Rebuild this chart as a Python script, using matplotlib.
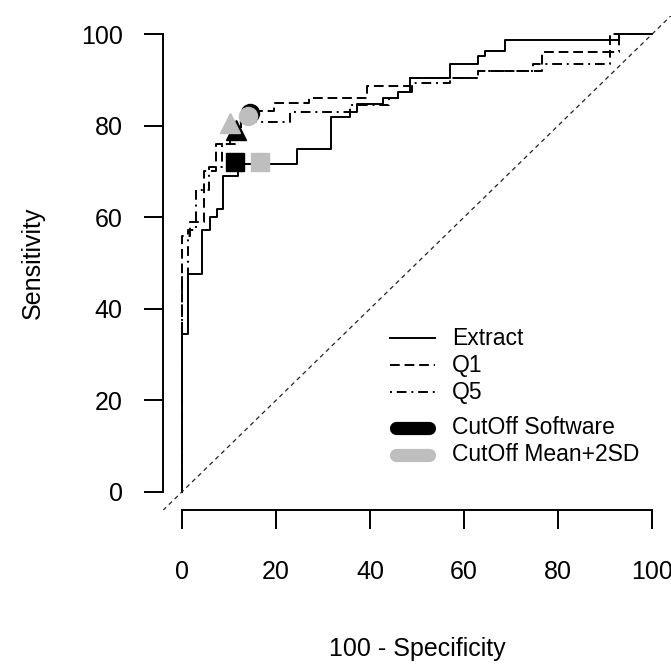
import matplotlib
matplotlib.use("Agg")
import matplotlib.pyplot as plt

plt.rcParams["font.family"] = ["Liberation Sans", "DejaVu Sans"]

# ROC curves: corner points (100 - specificity, sensitivity), drawn as steps-post
extract_x = [0, 0, 1.3, 4.3, 6.0, 7.4, 8.7, 12.0, 24.5, 31.7, 35.7, 37.2, 42.8, 46.0,
             48.6, 57.0, 63.0, 64.5, 68.7, 93.0, 100]
extract_y = [0, 34.4, 47.5, 57.3, 60.0, 61.7, 69.1, 71.7, 75.0, 81.8, 83.0, 84.7, 86.0, 87.4,
             90.5, 93.4, 95.3, 96.3, 98.7, 100, 100]

q1_x = [0, 0, 1.7, 4.7, 7.2, 10.2, 12.5, 14.5, 19.5, 27.0, 39.3, 48.5, 63.0, 76.5, 91.0, 100]
q1_y = [0, 56.0, 59.0, 70.0, 76.0, 79.0, 82.5, 83.1, 84.9, 86.1, 88.7, 90.5, 91.9, 96.0, 100, 100]

q5_x = [0, 0, 1.3, 3.1, 5.7, 8.5, 11.3, 23.0, 35.7, 44.0, 46.0, 49.0, 57.0, 63.0, 74.7,
        91.0, 93.0, 100]
q5_y = [0, 47.0, 57.3, 66.0, 71.0, 76.0, 80.7, 83.0, 84.6, 86.0, 87.4, 89.2, 90.5, 91.9, 93.4,
        96.0, 100, 100]

# cut-off points: software (black) and mean+2SD (grey)
cut_names = ["Extract", "Q1", "Q5"]
cut_markers = ["s", "o", "^"]
cut_soft_x = [11.3, 14.5, 11.6]
cut_soft_y = [72.0, 82.7, 79.0]
cut_sd_x = [16.6, 14.1, 10.3]
cut_sd_y = [72.0, 82.0, 80.6]

ticks = [0, 20, 40, 60, 80, 100]

GREY = "#bebebe"
LW = 1.4

fig = plt.figure(figsize=(6.71, 6.64), dpi=100)
ax = fig.add_axes([163 / 671, 1 - 510.3 / 664, 508 / 671, 494.6 / 664])

ax.plot(extract_x, extract_y, color="black", lw=LW, drawstyle="steps-post")
ax.plot(q1_x, q1_y, color="black", lw=LW, drawstyle="steps-post", dashes=(5, 2.5))
ax.plot(q5_x, q5_y, color="black", lw=LW, drawstyle="steps-post",
        dashes=(1, 2.5, 5, 2.5))
ax.axline((0, 0), (100, 100), color="#222222", lw=0.9, dashes=(3.5, 3))

sizes = {"s": 13, "o": 13, "^": 15}
for m, x, y in zip(cut_markers, cut_soft_x, cut_soft_y):
    ax.plot(x, y, marker=m, ms=sizes[m], color="black", mec="black", ls="none")
for m, x, y in zip(cut_markers, cut_sd_x, cut_sd_y):
    ax.plot(x, y, marker=m, ms=sizes[m], color=GREY, mec=GREY, ls="none")

# legend, laid out by hand like the R version
leg_rows = [33.6, 27.7, 21.8, 14.0, 8.1]
leg_labels = ["Extract", "Q1", "Q5", "CutOff Software", "CutOff Mean+2SD"]
x0, x1, xt = 44.3, 53.8, 57.4
ax.plot([x0, x1], [leg_rows[0]] * 2, color="black", lw=LW)
ax.plot([x0, x1], [leg_rows[1]] * 2, color="black", lw=LW, dashes=(5, 2.5))
ax.plot([x0, x1], [leg_rows[2]] * 2, color="black", lw=LW, dashes=(1, 2.5, 5, 2.5))
ax.plot([x0 + 1.2, x1 - 1.2], [leg_rows[3]] * 2, color="black", lw=9.5,
        solid_capstyle="round")
ax.plot([x0 + 1.2, x1 - 1.2], [leg_rows[4]] * 2, color=GREY, lw=9.5,
        solid_capstyle="round")
for y, lab in zip(leg_rows, leg_labels):
    ax.text(xt, y, lab, fontsize=16.5, va="center", ha="left")

ax.set_xlim(-4, 104)
ax.set_ylim(-4, 104)
ax.set_xticks(ticks)
ax.set_yticks(ticks)
for side in ["top", "right"]:
    ax.spines[side].set_visible(False)
for side in ["left", "bottom"]:
    ax.spines[side].set_bounds(0, 100)
    ax.spines[side].set_linewidth(LW)
ax.tick_params(axis="both", length=14, width=LW, labelsize=18)
ax.tick_params(axis="x", pad=22)
ax.tick_params(axis="y", pad=15)

ax.set_xlabel("100 - Specificity", fontsize=18)
ax.set_ylabel("Sensitivity", fontsize=18)
ax.xaxis.set_label_coords(0.5, -0.28)
ax.xaxis.label.set_va("center")
ax.yaxis.set_label_coords(-0.256, 0.5)
ax.yaxis.label.set_va("center")

fig.savefig("out.png", dpi=100)
